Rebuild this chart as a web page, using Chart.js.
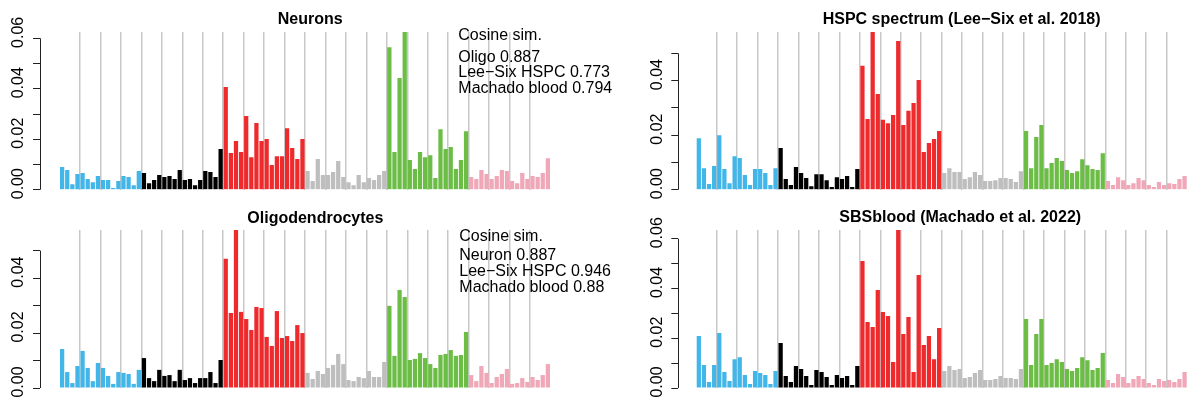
<!DOCTYPE html>
<html>
<head>
<meta charset="utf-8">
<script src="https://cdn.jsdelivr.net/npm/chart.js@4.4.0/dist/chart.umd.min.js"></script>
<style>
body{margin:0;background:#fff;}
#wrap{position:relative;width:1188px;height:398px;font-family:"Liberation Sans",Arial,sans-serif;color:#000;overflow:hidden;}
#wrap canvas{position:absolute;}
.ttl{position:absolute;font-weight:bold;font-size:16px;line-height:18px;white-space:nowrap;}
.note{position:absolute;font-size:16px;line-height:18px;white-space:nowrap;}
</style>
</head>
<body>
<div id="wrap">
	<canvas id="neurons" width="594" height="199" style="left:0;top:0"></canvas>
	<canvas id="hspc" width="594" height="199" style="left:594px;top:0"></canvas>
	<canvas id="oligo" width="594" height="199" style="left:0;top:199px"></canvas>
	<canvas id="sbsblood" width="594" height="199" style="left:594px;top:199px"></canvas>

	<div class="ttl" style="left:277.7px;top:9.8px">Neurons</div>
	<div class="ttl" style="left:822.7px;top:9.8px">HSPC spectrum (Lee−Six et al. 2018)</div>
	<div class="ttl" style="left:247.3px;top:208.8px">Oligodendrocytes</div>
	<div class="ttl" style="left:839.3px;top:208.2px">SBSblood (Machado et al. 2022)</div>

	<div class="note" style="left:458.3px;top:25.9px">Cosine sim.</div>
	<div class="note" style="left:458.3px;top:48px">Oligo 0.887</div>
	<div class="note" style="left:458.3px;top:63.3px">Lee−Six HSPC 0.773</div>
	<div class="note" style="left:458.3px;top:79px">Machado blood 0.794</div>

	<div class="note" style="left:459.3px;top:226.7px">Cosine sim.</div>
	<div class="note" style="left:459.3px;top:245.7px">Neuron 0.887</div>
	<div class="note" style="left:459.3px;top:262px">Lee−Six HSPC 0.946</div>
	<div class="note" style="left:459.3px;top:278px">Machado blood 0.88</div>
</div>
<script>
(function(){
	'use strict';

	var mutTypes = ['C>A', 'C>G', 'C>T', 'T>A', 'T>C', 'T>G'];
	var bases = ['A', 'C', 'G', 'T'];
	var yTickLabels = ['0.00', '0.02', '0.04', '0.06'];

	// 96 trinucleotide contexts, 16 per mutation type
	var categories = [];
	mutTypes.forEach(function(m){
		bases.forEach(function(a){
			bases.forEach(function(b){
				categories.push(a + '[' + m + ']' + b);
			});
		});
	});

	var neurons = [
		0.0090, 0.0078, 0.0022, 0.0062, 0.0066, 0.0042, 0.0030, 0.0054, 0.0038, 0.0038, 0.0007, 0.0034, 0.0054, 0.0050, 0.0018, 0.0074,
		0.0066, 0.0026, 0.0038, 0.0058, 0.0050, 0.0054, 0.0042, 0.0078, 0.0038, 0.0042, 0.0018, 0.0038, 0.0074, 0.0070, 0.0050, 0.0161,
		0.0407, 0.0145, 0.0193, 0.0149, 0.0292, 0.0129, 0.0264, 0.0193, 0.0201, 0.0098, 0.0133, 0.0133, 0.0244, 0.0165, 0.0122, 0.0201,
		0.0074, 0.0034, 0.0122, 0.0058, 0.0058, 0.0070, 0.0114, 0.0050, 0.0030, 0.0018, 0.0058, 0.0030, 0.0046, 0.0038, 0.0058, 0.0074,
		0.0565, 0.0149, 0.0443, 0.0625, 0.0118, 0.0082, 0.0149, 0.0129, 0.0137, 0.0046, 0.0240, 0.0161, 0.0169, 0.0082, 0.0118, 0.0232,
		0.0050, 0.0042, 0.0078, 0.0062, 0.0042, 0.0054, 0.0078, 0.0074, 0.0034, 0.0026, 0.0066, 0.0042, 0.0054, 0.0050, 0.0066, 0.0125
	];

	var oligo = [
		0.0142, 0.0058, 0.0018, 0.0080, 0.0135, 0.0073, 0.0025, 0.0091, 0.0073, 0.0044, 0.0015, 0.0058, 0.0055, 0.0051, 0.0015, 0.0066,
		0.0109, 0.0036, 0.0025, 0.0066, 0.0044, 0.0047, 0.0025, 0.0066, 0.0029, 0.0036, 0.0018, 0.0036, 0.0036, 0.0058, 0.0018, 0.0102,
		0.0470, 0.0273, 0.0575, 0.0277, 0.0251, 0.0211, 0.0295, 0.0291, 0.0186, 0.0153, 0.0280, 0.0182, 0.0189, 0.0171, 0.0229, 0.0200,
		0.0055, 0.0033, 0.0062, 0.0051, 0.0073, 0.0084, 0.0124, 0.0087, 0.0029, 0.0025, 0.0040, 0.0036, 0.0062, 0.0040, 0.0040, 0.0095,
		0.0299, 0.0117, 0.0357, 0.0331, 0.0102, 0.0106, 0.0127, 0.0109, 0.0087, 0.0073, 0.0120, 0.0124, 0.0138, 0.0117, 0.0120, 0.0204,
		0.0047, 0.0025, 0.0080, 0.0055, 0.0018, 0.0040, 0.0051, 0.0069, 0.0015, 0.0018, 0.0036, 0.0022, 0.0040, 0.0029, 0.0047, 0.0087
	];

	var hspc = [
		0.0189, 0.0079, 0.0021, 0.0087, 0.0200, 0.0076, 0.0024, 0.0123, 0.0116, 0.0054, 0.0017, 0.0076, 0.0076, 0.0061, 0.0017, 0.0079,
		0.0153, 0.0039, 0.0017, 0.0083, 0.0061, 0.0043, 0.0013, 0.0057, 0.0057, 0.0035, 0.0010, 0.0046, 0.0039, 0.0050, 0.0010, 0.0076,
		0.0454, 0.0259, 0.0578, 0.0351, 0.0256, 0.0244, 0.0274, 0.0545, 0.0237, 0.0289, 0.0318, 0.0402, 0.0138, 0.0171, 0.0186, 0.0215,
		0.0061, 0.0079, 0.0065, 0.0065, 0.0039, 0.0046, 0.0065, 0.0054, 0.0032, 0.0032, 0.0035, 0.0043, 0.0043, 0.0039, 0.0028, 0.0068,
		0.0215, 0.0079, 0.0193, 0.0237, 0.0079, 0.0098, 0.0116, 0.0105, 0.0072, 0.0061, 0.0068, 0.0112, 0.0090, 0.0076, 0.0072, 0.0134,
		0.0032, 0.0017, 0.0046, 0.0035, 0.0017, 0.0024, 0.0043, 0.0035, 0.0017, 0.0010, 0.0028, 0.0017, 0.0024, 0.0021, 0.0039, 0.0050
	];

	var sbsblood = [
		0.0209, 0.0092, 0.0024, 0.0092, 0.0221, 0.0064, 0.0028, 0.0116, 0.0124, 0.0052, 0.0016, 0.0068, 0.0060, 0.0052, 0.0016, 0.0068,
		0.0181, 0.0048, 0.0024, 0.0088, 0.0076, 0.0048, 0.0012, 0.0072, 0.0064, 0.0044, 0.0012, 0.0052, 0.0040, 0.0048, 0.0012, 0.0088,
		0.0510, 0.0265, 0.0245, 0.0394, 0.0305, 0.0289, 0.0104, 0.0635, 0.0217, 0.0285, 0.0064, 0.0454, 0.0173, 0.0209, 0.0116, 0.0241,
		0.0068, 0.0088, 0.0072, 0.0076, 0.0040, 0.0044, 0.0060, 0.0072, 0.0032, 0.0032, 0.0036, 0.0048, 0.0040, 0.0040, 0.0036, 0.0076,
		0.0277, 0.0092, 0.0217, 0.0277, 0.0092, 0.0100, 0.0116, 0.0104, 0.0076, 0.0068, 0.0080, 0.0124, 0.0112, 0.0072, 0.0080, 0.0141,
		0.0032, 0.0020, 0.0056, 0.0044, 0.0020, 0.0036, 0.0048, 0.0036, 0.0020, 0.0012, 0.0036, 0.0028, 0.0032, 0.0024, 0.0036, 0.0064
	];

	var typeColours = ['#42B6E8', '#000000', '#EE2A2D', '#BEBEBE', '#6BBD45', '#F0A7B7'];

	// R style y axis: line only over the tick range, labels rotated
	var rAxis = {
		id: 'rAxis',
		afterDraw: function(chart){
			var s = chart.scales.y;
			var ctx = chart.ctx;
			var ticks = s.ticks;
			var x = Math.round(s.right - 0.5) + 0.5;
			ctx.save();
			ctx.strokeStyle = '#222';
			ctx.lineWidth = 1;
			ctx.beginPath();
			ctx.moveTo(x, s.getPixelForValue(ticks[0].value));
			ctx.lineTo(x, s.getPixelForValue(ticks[ticks.length - 1].value));
			ctx.stroke();

			ctx.fillStyle = '#000';
			ctx.font = '16px "Liberation Sans", Arial, sans-serif';
			ctx.textAlign = 'center';
			ctx.textBaseline = 'middle';
			ticks.forEach(function(t){
				var lab = t.value.toFixed(2);
				if (yTickLabels.indexOf(lab) < 0) return;
				ctx.save();
				ctx.translate(s.right - 21, s.getPixelForValue(t.value) - 6);
				ctx.rotate(-Math.PI / 2);
				ctx.fillText(lab, 0, 0);
				ctx.restore();
			});
			ctx.restore();
		}
	};

	function panel(id, values, box){
		var pitch = 5.113;
		var xMin = 1 / 12 - (box.barStart - box.axis) / pitch;
		var xMax = xMin + (box.right - box.axis) / pitch;

		var points = values.map(function(v, i){ return {x: i + 0.5, y: v, c: categories[i]}; });
		var colours = values.map(function(v, i){ return typeColours[Math.floor(i / 16)]; });

		new Chart(document.getElementById(id), {
			type: 'bar',
			data: {
				datasets: [{
					data: points,
					backgroundColor: colours,
					borderWidth: 0,
					barPercentage: 1 / 1.2,
					categoryPercentage: 1
				}]
			},
			options: {
				responsive: false,
				animation: false,
				devicePixelRatio: 1,
				layout: {padding: {left: box.axis - 40, top: box.top, right: 594 - box.right, bottom: 199 - box.bottom}},
				plugins: {legend: {display: false}, tooltip: {enabled: false}},
				scales: {
					x: {
						type: 'linear',
						min: xMin,
						max: xMax,
						offset: false,
						ticks: {display: false, stepSize: 4, includeBounds: false, maxTicksLimit: 1000},
						grid: {
							offset: false,
							drawTicks: false,
							lineWidth: 1.5,
							color: function(c){
								var v = c.tick ? c.tick.value : -1;
								return (v >= 4 && v <= 92) ? '#C8C8C8' : 'rgba(0,0,0,0)';
							}
						},
						border: {display: false},
						afterFit: function(s){ s.height = 0; }
					},
					y: {
						min: 0,
						max: Math.max.apply(null, values),
						ticks: {display: false, stepSize: 0.01, includeBounds: false},
						grid: {drawOnChartArea: false, tickLength: 7, tickColor: '#222', tickWidth: 1},
						border: {display: false},
						afterFit: function(s){ s.width = 40; }
					}
				}
			},
			plugins: [rAxis]
		});
	}

	panel('neurons', neurons, {axis: 40, barStart: 60, right: 552, top: 32, bottom: 189.7});
	panel('hspc', hspc, {axis: 84.3, barStart: 102.7, right: 594, top: 32, bottom: 189.7});
	panel('oligo', oligo, {axis: 40, barStart: 60, right: 552, top: 31, bottom: 189});
	panel('sbsblood', sbsblood, {axis: 84.3, barStart: 102.7, right: 594, top: 31, bottom: 189});
})();
</script>
</body>
</html>
